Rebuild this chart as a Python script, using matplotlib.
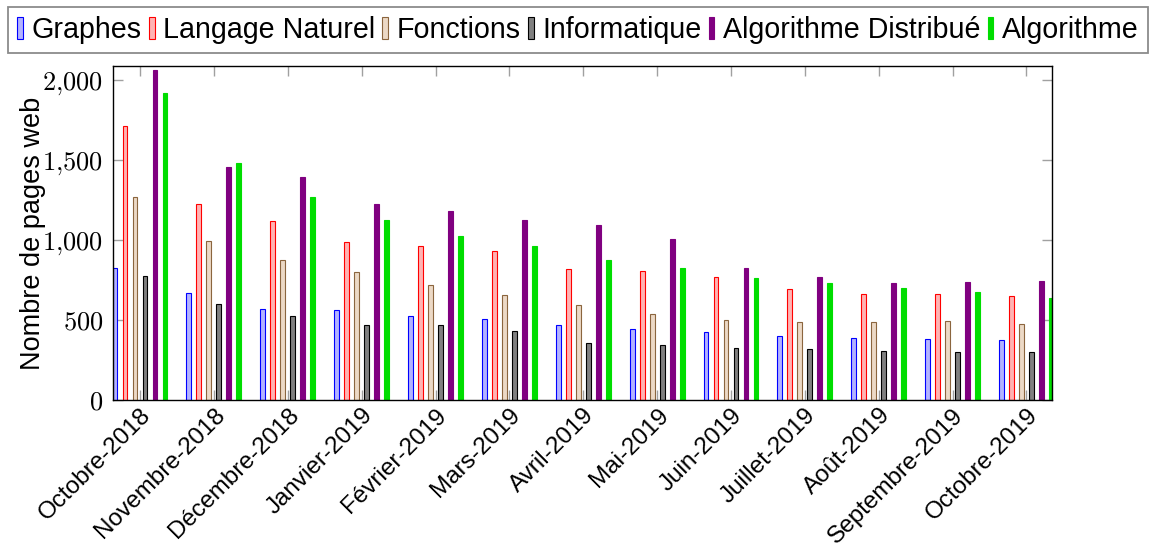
import numpy as np
import matplotlib.pyplot as plt
import matplotlib.transforms as mtransforms
from matplotlib.ticker import FuncFormatter

plt.rcParams['font.family'] = ['Liberation Sans', 'DejaVu Sans']
plt.rcParams['mathtext.fontset'] = 'cm'

# mois affichés sur l'axe x
mois = ['Octobre-2018', 'Novembre-2018', 'Décembre-2018', 'Janvier-2019',
        'Février-2019', 'Mars-2019', 'Avril-2019', 'Mai-2019', 'Juin-2019',
        'Juillet-2019', 'Août-2019', 'Septembre-2019', 'Octobre-2019']

# nombre de pages web par thème et par mois
graphes = [827, 667, 569, 560, 525, 506, 467, 442, 423, 400, 387, 383, 377]
langage_naturel = [1715, 1223, 1117, 990, 960, 929, 817, 806, 771, 696, 665, 662, 652]
fonctions = [1269, 992, 873, 802, 719, 658, 594, 540, 498, 485, 485, 492, 473]
informatique = [777, 598, 527, 467, 467, 429, 354, 342, 323, 319, 306, 302, 298]
algo_distribue = [2065, 1458, 1392, 1223, 1179, 1123, 1094, 1008, 823, 767, 733, 735, 746]
algorithme = [1917, 1479, 1269, 1125, 1023, 965, 875, 827, 762, 733, 698, 675, 635]

series = [
    ('Graphes', graphes, '#b3b3ff', '#0000ff'),
    ('Langage Naturel', langage_naturel, '#ffb3b3', '#ff0000'),
    ('Fonctions', fonctions, '#ecd9c6', '#8b653e'),
    ('Informatique', informatique, '#808080', '#000000'),
    ('Algorithme Distribué', algo_distribue, '#800080', '#800080'),
    ('Algorithme', algorithme, '#00dd00', '#00dd00'),
]

fig = plt.figure(figsize=(11.56, 5.5), dpi=100)
ax = fig.add_axes([0.0978, 0.2727, 0.8122, 0.6073])

x = np.arange(len(mois))
pas = 0.1354
largeur = 0.066
for i, (nom, valeurs, fond, bord) in enumerate(series):
    ax.bar(x + (i - 2.5) * pas, valeurs, width=largeur, color=fond,
           edgecolor=bord, linewidth=0.8, label=nom, zorder=2)

ax.set_xlim(-0.365, 12.345)
ax.set_ylim(0, 2087)
ax.set_xticks(x)
ax.set_xticklabels(mois, rotation=45, ha='right', va='top',
                   rotation_mode='anchor', fontsize=17.5)
# décale les étiquettes inclinées un peu vers la gauche
decalage = mtransforms.ScaledTranslation(-0.12, 0.01, fig.dpi_scale_trans)
for lab in ax.get_xticklabels():
    lab.set_transform(lab.get_transform() + decalage)

ax.set_yticks([0, 500, 1000, 1500, 2000])
ax.yaxis.set_major_formatter(FuncFormatter(
    lambda v, p: r'$%s$' % format(int(v), ',').replace(',', '{,}')))
ax.tick_params(axis='y', labelsize=19)

ax.tick_params(axis='both', direction='in', length=7.5, width=1,
               color='#a0a0a0', top=True, right=True, zorder=3)
ax.tick_params(axis='x', pad=3)
ax.tick_params(axis='y', pad=7)

for s in ax.spines.values():
    s.set_linewidth(1.0)
    s.set_zorder(4)

ax.set_ylabel('Nombre de pages web', fontsize=19.5)
ax.yaxis.set_label_coords(-0.071, 0.5)

leg = fig.legend(loc='upper center', bbox_to_anchor=(0.5, 0.988), ncol=6,
                 fontsize=20.6, frameon=True, fancybox=False,
                 handlelength=0.2, handleheight=0.8, handletextpad=0.3,
                 columnspacing=0.25, borderpad=0.32, borderaxespad=0)
leg.get_frame().set_edgecolor('#6e6e6e')
leg.get_frame().set_linewidth(1.3)

fig.savefig('out.png', dpi=100)
